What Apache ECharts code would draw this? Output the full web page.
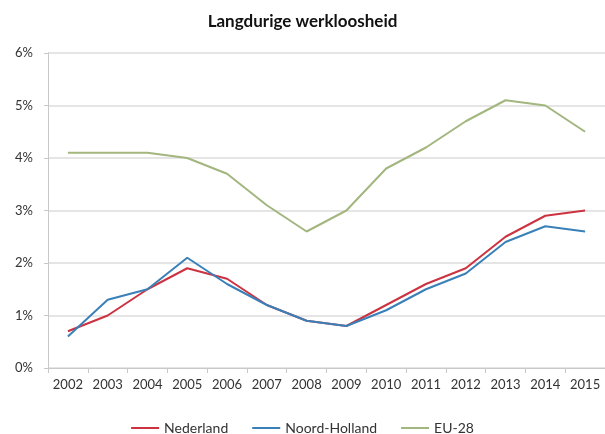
<!DOCTYPE html>
<html>
<head>
<meta charset="utf-8">
<script src="https://cdn.jsdelivr.net/npm/echarts@6/dist/echarts.min.js"></script>
<style>
  html, body { margin: 0; padding: 0; background: #fff; }
  #chart { width: 605px; height: 434px; }
</style>
</head>
<body>
<div id="chart"></div>
<script>
// jaren op de x-as
var years = ["2002", "2003", "2004", "2005", "2006", "2007", "2008",
  "2009", "2010", "2011", "2012", "2013", "2014", "2015"];
// langdurige werkloosheid in procenten
var nederland = [0.7, 1.0, 1.5, 1.9, 1.7, 1.2, 0.9, 0.8, 1.2, 1.6, 1.9, 2.5, 2.9, 3.0];
var noordHolland = [0.6, 1.3, 1.5, 2.1, 1.6, 1.2, 0.9, 0.8, 1.1, 1.5, 1.8, 2.4, 2.7, 2.6];
var eu28 = [4.1, 4.1, 4.1, 4.0, 3.7, 3.1, 2.6, 3.0, 3.8, 4.2, 4.7, 5.1, 5.0, 4.5];

var font = "Lato, 'Open Sans', sans-serif";
var chart = echarts.init(document.getElementById("chart"));

function lineSeries(name, data, color) {
  return {
    name: name,
    type: "line",
    data: data,
    symbol: "none",
    smooth: false,
    lineStyle: { color: color, width: 2 },
    itemStyle: { color: color }
  };
}

chart.setOption({
  animation: false,
  title: {
    text: "Langdurige werkloosheid",
    left: "center",
    top: 8,
    textStyle: { fontFamily: font, fontSize: 17, fontWeight: "bold", color: "#111" }
  },
  legend: {
    top: 416,
    left: "center",
    itemWidth: 28,
    itemHeight: 2,
    itemGap: 24,
    icon: "rect",
    textStyle: { fontFamily: font, fontSize: 14, color: "#333" },
    data: ["Nederland", "Noord-Holland", "EU-28"]
  },
  grid: { left: 48, right: 0, top: 53, bottom: 66 },
  xAxis: {
    type: "category",
    data: years,
    boundaryGap: true,
    axisLine: { lineStyle: { color: "#c8c8c8" } },
    axisTick: { show: true, length: 5, lineStyle: { color: "#c8c8c8" } },
    axisLabel: { fontFamily: font, fontSize: 13, color: "#333", margin: 10 }
  },
  yAxis: {
    type: "value",
    min: 0,
    max: 6,
    interval: 1,
    axisLine: { show: true, lineStyle: { color: "#c8c8c8" } },
    axisTick: { show: true, length: 4, lineStyle: { color: "#c8c8c8" } },
    splitLine: { lineStyle: { color: "#dcdcdc", width: 1.5 } },
    axisLabel: {
      fontFamily: font, fontSize: 13, color: "#333", margin: 15,
      formatter: function (v) { return v + "%"; }
    }
  },
  series: [
    lineSeries("Nederland", nederland, "#cc3340"),
    lineSeries("Noord-Holland", noordHolland, "#3a80b8"),
    lineSeries("EU-28", eu28, "#a3b67e")
  ]
});
</script>
</body>
</html>
